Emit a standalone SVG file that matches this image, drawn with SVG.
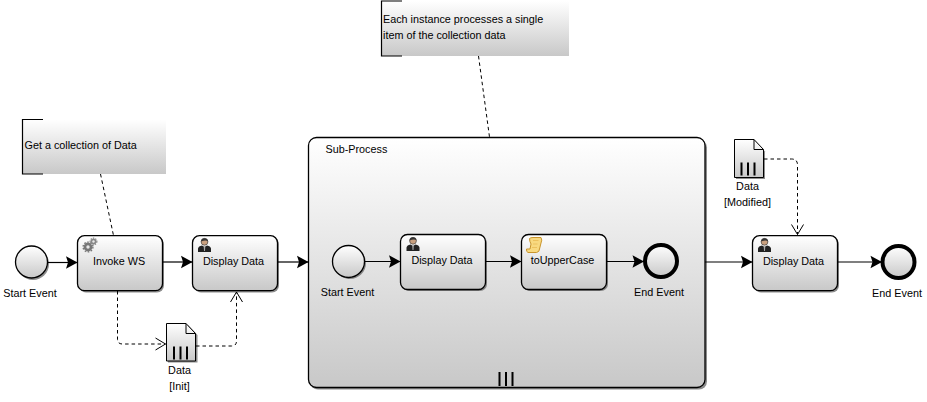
<svg xmlns="http://www.w3.org/2000/svg" width="927" height="402" viewBox="0 0 927 402">
<style>
text{font-family:"Liberation Sans",Arial,sans-serif;font-size:10.8px;fill:#000;text-anchor:middle}
.l{text-anchor:start}
.task{fill:url(#g);stroke:#000;stroke-width:1.3}
.sh{fill:#666;opacity:.75}
.ev{fill:url(#g);stroke:#000;stroke-width:1.3}
.end{fill:url(#g);stroke:#000;stroke-width:4}
.seq{fill:none;stroke:#000;stroke-width:1.2}
.dash{fill:none;stroke:#000;stroke-width:1;stroke-dasharray:3.5 3}
.br{fill:none;stroke:#000;stroke-width:1.2}
.bar{stroke:#000;stroke-width:2}
</style>
<defs>
<linearGradient id="g" x1="0" y1="0" x2="0" y2="1"><stop offset="0" stop-color="#fff"/><stop offset="1" stop-color="#c8c8c8"/></linearGradient>
<marker id="a" markerUnits="userSpaceOnUse" markerWidth="13" markerHeight="14" refX="12" refY="7" orient="auto"><path d="M0.500 .8L12 7L0.500 13.200L2.500 7Z" fill="#000"/></marker>
<marker id="o" markerUnits="userSpaceOnUse" markerWidth="13" markerHeight="15" refX="11" refY="7.500" orient="auto"><path d="M1 1.500L11 7.500L1 13.500" fill="none" stroke="#000" stroke-width="1"/></marker>
<g id="person"><circle cx="6.500" cy="3.800" r="3.400" fill="#c9a07f" stroke="#3c3c3c" stroke-width=".7"/><path d="M3 3.400Q3.500 .2 6.500 .2Q9.500 .2 10 3.400Q8 1.800 3 3.400Z" fill="#333"/><path d="M0 14V10.500Q.5 8 4 7.400L6.500 9L9 7.400Q12.500 8 13 10.500V14Z" fill="#222"/><path d="M5.700 8.500H7.300L7 13H6Z" fill="#aaa"/></g>
<g id="gear"><circle cx="5" cy="9" r="4.400" fill="#777"/><circle cx="5" cy="9" r="1.700" fill="#e8e8e8"/><circle cx="5" cy="9" r="4.900" fill="none" stroke="#777" stroke-width="1.400" stroke-dasharray="1.600 1.500"/><circle cx="10.500" cy="3.500" r="3" fill="#888"/><circle cx="10.500" cy="3.500" r="1.200" fill="#e8e8e8"/><circle cx="10.500" cy="3.500" r="3.400" fill="none" stroke="#888" stroke-width="1.100" stroke-dasharray="1.300 1.200"/></g>
<g id="scroll"><path d="M3.500 1.500Q4.500 .5 7 .5H15Q16.500 3 15 6L13.500 12Q13.500 15 10.500 15.500H2Q.2 15 .5 12H4L5 7Q3.500 4.500 3.500 1.500Z" fill="#f8d980" stroke="#c9952c" stroke-width="1"/><path d="M7 3.500H12.500M7 7H11.500M6 10.500H11" stroke="#e9bb55" stroke-width=".8" fill="none"/></g>
<g id="data3"><path d="M0 0V13M6.500 0V13M13 0V13" class="bar" fill="none"/></g>
</defs>

<g id="annotation-1">
<rect x="22.500" y="119.500" width="143.500" height="54.500" fill="url(#g)"/>
<path class="br" d="M43 119.500H22.500V174H43"/>
<text class="l" x="24.500" y="149">Get a collection of Data</text>
</g>
<g id="annotation-2">
<rect x="381.500" y="1" width="187.500" height="55" fill="url(#g)"/>
<path class="br" d="M402 1H381.500V56H402"/>
<text class="l" x="383" y="23">Each instance processes a single</text>
<text class="l" x="383" y="39">item of the collection data</text>
</g>

<g id="start-1">
<circle class="sh" cx="33" cy="264" r="16"/>
<circle class="ev" cx="31.500" cy="262" r="16"/>
<text x="30" y="297">Start Event</text>
</g>
<g id="task-invoke">
<rect class="sh" x="79" y="237.500" width="85" height="55" rx="7"/>
<rect class="task" x="77.500" y="235.700" width="85" height="55" rx="7"/>
<use href="#gear" x="83" y="238"/>
<text x="119" y="265">Invoke WS</text>
</g>
<g id="task-display-1">
<rect class="sh" x="194" y="237.500" width="85" height="55" rx="7"/>
<rect class="task" x="192.500" y="235.700" width="85" height="55" rx="7"/>
<use href="#person" x="198" y="238"/>
<text x="233.500" y="265">Display Data</text>
</g>
<g id="data-init">
<path class="sh" d="M168 325H188L197.500 335V362.500H168Z"/>
<path d="M166.500 323.500H186L195.500 333.500V361H166.500Z" fill="url(#g)" stroke="#000"/>
<path d="M186 323.500V333.500H195.500" fill="none" stroke="#000"/>
<use href="#data3" x="174" y="346.500"/>
<text x="179.500" y="374">Data</text>
<text x="179.500" y="390">[Init]</text>
</g>

<g id="subprocess">
<rect class="sh" x="310" y="139.500" width="397" height="250" rx="8"/>
<rect class="task" x="308.500" y="137.500" width="396.500" height="250" rx="8"/>
<text class="l" x="325.500" y="153">Sub-Process</text>
<path class="bar" fill="none" d="M499.500 372V386M506 372V386M512.500 372V386"/>
</g>
<g id="start-2">
<circle class="sh" cx="350" cy="263" r="16"/>
<circle class="ev" cx="348.500" cy="261.500" r="16"/>
<text x="347.500" y="296">Start Event</text>
</g>
<g id="task-display-2">
<rect class="sh" x="402" y="236" width="85" height="55" rx="7"/>
<rect class="task" x="400.500" y="234.500" width="85" height="55" rx="7"/>
<use href="#person" x="406.500" y="237"/>
<text x="442" y="264">Display Data</text>
</g>
<g id="task-upper">
<rect class="sh" x="523" y="236" width="85" height="55" rx="7"/>
<rect class="task" x="521.500" y="234.500" width="85" height="55" rx="7"/>
<use href="#scroll" x="526" y="237"/>
<text x="562.500" y="264">toUpperCase</text>
</g>
<g id="end-1">
<circle class="end" cx="661" cy="261" r="16"/>
<text x="659" y="296">End Event</text>
</g>

<g id="data-modified">
<path class="sh" d="M736 141.500H756L765 151.500V179H736Z"/>
<path d="M734.500 139.500H754L763.500 149.500V177.500H734.500Z" fill="url(#g)" stroke="#000"/>
<path d="M754 139.500V149.500H763.500" fill="none" stroke="#000"/>
<use href="#data3" x="741.500" y="162.500"/>
<text x="747.500" y="190">Data</text>
<text x="747.500" y="206">[Modified]</text>
</g>
<g id="task-display-3">
<rect class="sh" x="754" y="237.500" width="85" height="55" rx="7"/>
<rect class="task" x="752.500" y="235.700" width="85" height="55" rx="7"/>
<use href="#person" x="758" y="238"/>
<text x="793.500" y="265">Display Data</text>
</g>
<g id="end-2">
<circle class="end" cx="898.500" cy="262" r="16"/>
<text x="897" y="297">End Event</text>
</g>

<g id="connectors">
<path class="seq" marker-end="url(#a)" d="M47.500 262.500H77.500"/>
<path class="seq" marker-end="url(#a)" d="M162.500 262H192.500"/>
<path class="seq" marker-end="url(#a)" d="M277.500 262H308.500"/>
<path class="seq" marker-end="url(#a)" d="M365 261.500H400.500"/>
<path class="seq" marker-end="url(#a)" d="M485.500 261.500H521.500"/>
<path class="seq" marker-end="url(#a)" d="M606.500 261.500H644"/>
<path class="seq" marker-end="url(#a)" d="M705 262H752.500"/>
<path class="seq" marker-end="url(#a)" d="M837.500 262H882"/>
<path class="dash" marker-end="url(#o)" d="M117.500 291V339Q117.500 344 122.500 344H165.500"/>
<path class="dash" marker-end="url(#o)" d="M196 346H231.500Q236.500 346 236.500 341V292"/>
<path class="dash" marker-end="url(#o)" d="M764 159H791.500Q797.500 159 797.500 165V234.500"/>
<path class="dash" d="M100.500 174L113.500 235.500"/>
<path class="dash" d="M478.500 56L489.500 137"/>
</g>
</svg>
